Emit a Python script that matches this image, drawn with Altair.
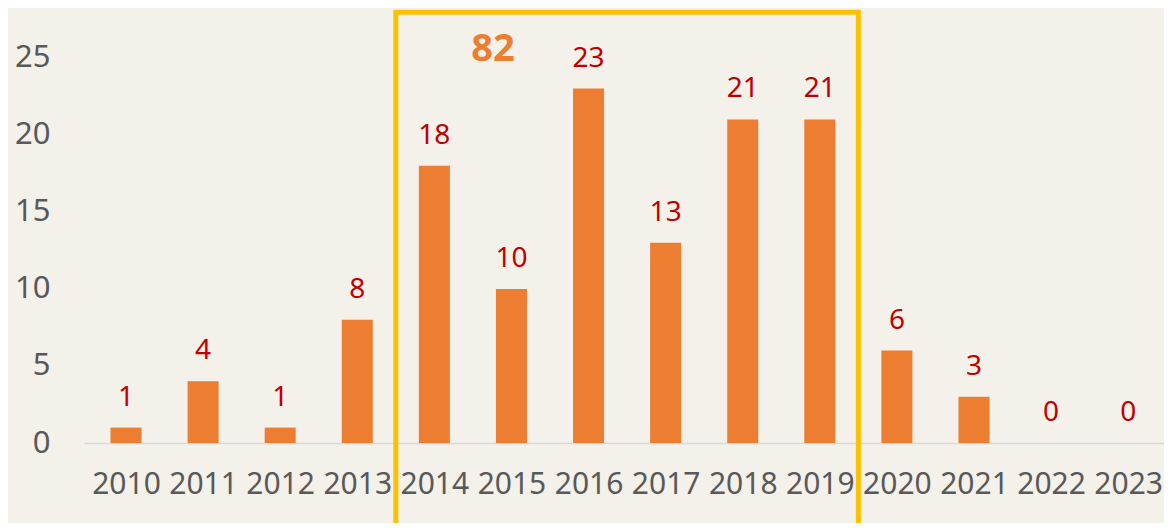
import altair as alt
import pandas as pd

years = [2010, 2011, 2012, 2013, 2014, 2015, 2016, 2017, 2018, 2019, 2020, 2021, 2022, 2023]
counts = [1, 4, 1, 8, 18, 10, 23, 13, 21, 21, 6, 3, 0, 0]

# highlight box annotation (years 2014-2019)
box_x = [2013.5]
box_x2 = [2019.5]
box_y = [27.95]
box_y2 = [-6.0]
note_text = ["82"]
note_x = [2014.76]
note_y = [25.5]

df = pd.DataFrame({"year": years, "count": counts})
box = pd.DataFrame({"x": box_x, "x2": box_x2, "y": box_y, "y2": box_y2})
note = pd.DataFrame({"x": note_x, "y": note_y, "t": note_text})

FONT = "Noto Sans"
xscale = alt.Scale(domain=[2009.52, 2023.4], nice=False, zero=False)
yscale = alt.Scale(domain=[0, 28.1], nice=False)

base = alt.Chart(df)

bars = base.mark_bar(color="#ED7D31", size=31).encode(
    x=alt.X("year:Q", scale=xscale,
            axis=alt.Axis(values=years, format="d", title=None, ticks=False, grid=False,
                          domainColor="#D9D9D9", domainWidth=1.5,
                          labelFont=FONT, labelFontSize=30, labelColor="#595959",
                          labelPadding=26, labelOverlap=False, labelFlush=False)),
    y=alt.Y("count:Q", scale=yscale,
            axis=alt.Axis(values=[0, 5, 10, 15, 20, 25], title=None, ticks=False, grid=False,
                          domain=False, labelFont=FONT, labelFontSize=31,
                          labelColor="#595959", labelPadding=34)),
)

labels = base.mark_text(color="#C00000", font=FONT, fontSize=28, baseline="alphabetic",
                        dy=-22).encode(
    x=alt.X("year:Q", scale=xscale),
    y=alt.Y("count:Q", scale=yscale),
    text=alt.Text("count:Q"),
)

rect = alt.Chart(box).mark_rect(fill=None, stroke="#FFC000", strokeWidth=5, clip=False).encode(
    x=alt.X("x:Q", scale=xscale),
    x2="x2:Q",
    y=alt.Y("y:Q", scale=yscale),
    y2="y2:Q",
)

note_mark = alt.Chart(note).mark_text(color="#ED7D31", font=FONT, fontSize=38,
                                      fontWeight="bold", baseline="middle").encode(
    x=alt.X("x:Q", scale=xscale),
    y=alt.Y("y:Q", scale=yscale),
    text="t:N",
)

chart = alt.layer(bars, labels, rect, note_mark).properties(
    width=1080,
    height=433,
    background="#F4F0EA",
    padding={"left": 76, "top": 2, "right": 0, "bottom": 80},
    autosize=alt.AutoSizeParams(type="none"),
).configure_view(stroke=None)

chart.save("out.html", embed_options={"renderer": "svg", "actions": False})
